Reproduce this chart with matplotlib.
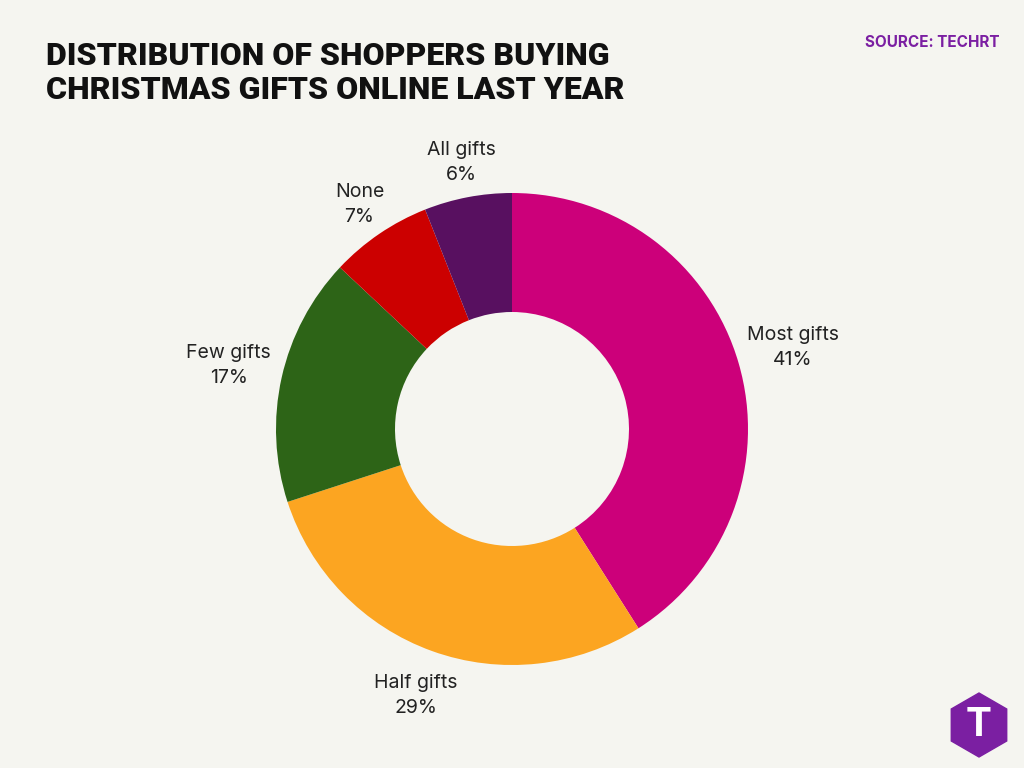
import numpy as np
import matplotlib.pyplot as plt
from matplotlib.patches import RegularPolygon

labels = ["Most gifts", "Half gifts", "Few gifts", "None", "All gifts"]
values = [41, 29, 17, 7, 6]
colors = ["#cc007a", "#fca521", "#2d6417", "#cc0000", "#581060"]

bg = "#f5f5f0"
fig = plt.figure(figsize=(10.24, 7.68), dpi=100, facecolor=bg)
ax = fig.add_axes([0, 0, 1, 1])
ax.set_xlim(0, 1024)
ax.set_ylim(0, 768)
ax.set_aspect("equal")
ax.axis("off")

cx, cy, R = 512, 768 - 429, 236
wedges, _ = ax.pie(values, colors=colors, startangle=90, counterclock=False,
                   center=(cx, cy), radius=R,
                   wedgeprops=dict(width=R - 117, edgecolor="none"))
ax.set_xlim(0, 1024)
ax.set_ylim(0, 768)

dists = [1.24, 1.2, 1.23, 1.15, 1.15]
for w, lab, v, d in zip(wedges, labels, values, dists):
    a = np.deg2rad((w.theta1 + w.theta2) / 2)
    ax.text(cx + R * d * np.cos(a), cy + R * d * np.sin(a), f"{lab}\n{v}%",
            ha="center", va="center", fontsize=14, family="Inter",
            color="#222222", linespacing=1.5)

fig.text(0.045, 0.905, "DISTRIBUTION OF SHOPPERS BUYING\nCHRISTMAS GIFTS ONLINE LAST YEAR",
         ha="left", va="center", fontsize=23, fontweight="black",
         family="Roboto", color="#111111", linespacing=1.15)
fig.text(0.976, 0.945, "SOURCE: TECHRT", ha="right", va="center", fontsize=11,
         fontweight="bold", family="Inter", color="#7b1fa2")

ax.add_patch(RegularPolygon((979, 768 - 725), 6, radius=32, color="#7b1fa2"))
ax.text(979, 768 - 725, "T", ha="center", va="center", fontsize=28,
        fontweight="bold", color="white", family="Inter")

fig.savefig("out.png", dpi=100, facecolor=bg)
